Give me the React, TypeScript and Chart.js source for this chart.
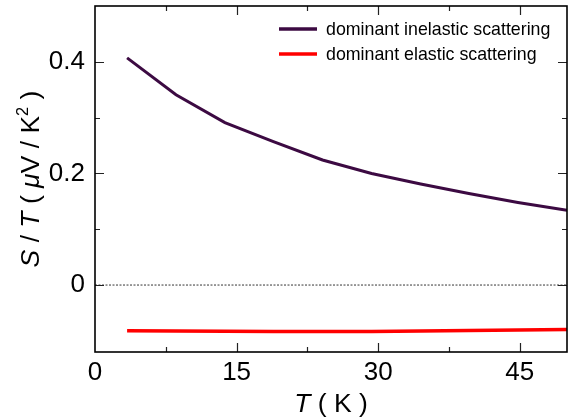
import React, { useEffect, useRef } from "react";
import { Chart, registerables } from "chart.js";

Chart.register(...registerables);

const temperatures = [3.4, 8.58, 13.76, 18.9, 24.1, 29.3, 34.5, 39.6, 44.8, 50];
const inelastic = [0.407, 0.341, 0.291, 0.257, 0.224, 0.2, 0.181, 0.164, 0.148, 0.134];
const elastic = [-0.082, -0.0825, -0.083, -0.0833, -0.0833, -0.0832, -0.0825, -0.0815, -0.0805, -0.0797];
const seriesLabels = ["dominant inelastic scattering", "dominant elastic scattering"];
const seriesColors = ["#3c0a42", "#ff0000"];
const xMajorLabels = [0, 15, 30, 45];
const yMajorLabels = [0, 0.2, 0.4];

const FONT = "'Liberation Sans', Arial, sans-serif";

type Seg = { t: string; italic?: boolean; sup?: boolean };
const xTitle: Seg[] = [{ t: "T", italic: true }, { t: " ( K )" }];
const yTitle: Seg[] = [
  { t: "S", italic: true },
  { t: " / " },
  { t: "T", italic: true },
  { t: " ( " },
  { t: "\u03bc", italic: true },
  { t: "V / K" },
  { t: "2", sup: true },
  { t: " )" },
];

function segFont(s: Seg, size: number) {
  const sz = s.sup ? size * 0.62 : size;
  return `${s.italic ? "italic " : ""}${sz}px ${FONT}`;
}

function drawSegs(ctx: CanvasRenderingContext2D, segs: Seg[], cx: number, baseY: number, size: number) {
  let total = 0;
  for (const s of segs) {
    ctx.font = segFont(s, size);
    total += ctx.measureText(s.t).width;
  }
  let x = cx - total / 2;
  ctx.textAlign = "left";
  ctx.textBaseline = "alphabetic";
  for (const s of segs) {
    ctx.font = segFont(s, size);
    ctx.fillText(s.t, x, s.sup ? baseY - size * 0.42 : baseY);
    x += ctx.measureText(s.t).width;
  }
}

const isMult = (v: number, step: number) => Math.abs(v / step - Math.round(v / step)) < 1e-6;

const framePlugin = {
  id: "frameTicks",
  beforeDatasetsDraw(chart: any) {
    const { ctx, chartArea: ca, scales } = chart;
    const y0 = scales.y.getPixelForValue(0);
    ctx.save();
    ctx.strokeStyle = "#000";
    ctx.lineWidth = 0.8;
    ctx.setLineDash([2, 1.5]);
    ctx.beginPath();
    ctx.moveTo(ca.left, y0);
    ctx.lineTo(ca.right, y0);
    ctx.stroke();
    ctx.restore();
  },
  afterDatasetsDraw(chart: any) {
    const { ctx, chartArea: ca, scales } = chart;
    ctx.save();
    // ticks
    ctx.strokeStyle = "#222";
    ctx.lineWidth = 1.2;
    ctx.beginPath();
    for (const t of scales.x.ticks) {
      const v = t.value;
      if (!isMult(v, 7.5) || v <= 0 || v >= 50) continue;
      const len = isMult(v, 15) ? 9 : 5;
      const px = Math.round(scales.x.getPixelForValue(v)) + 0.5;
      ctx.moveTo(px, ca.bottom);
      ctx.lineTo(px, ca.bottom - len);
      ctx.moveTo(px, ca.top);
      ctx.lineTo(px, ca.top + len);
    }
    for (const t of scales.y.ticks) {
      const v = t.value;
      if (!isMult(v, 0.1) || v <= -0.12 || v >= 0.5) continue;
      const len = isMult(v, 0.2) ? 9 : 5;
      const py = Math.round(scales.y.getPixelForValue(v)) + 0.5;
      ctx.moveTo(ca.left, py);
      ctx.lineTo(ca.left + len, py);
      ctx.moveTo(ca.right, py);
      ctx.lineTo(ca.right - len, py);
    }
    ctx.stroke();
    // frame
    ctx.strokeStyle = "#000";
    ctx.lineWidth = 1.6;
    ctx.strokeRect(ca.left, ca.top, ca.right - ca.left, ca.bottom - ca.top);

    // legend
    const lx = ca.left + 184;
    chart.data.datasets.forEach((ds: any, i: number) => {
      const ly = ca.top + 23 + i * 25;
      ctx.strokeStyle = ds.borderColor;
      ctx.lineWidth = 3.5;
      ctx.beginPath();
      ctx.moveTo(lx, ly);
      ctx.lineTo(lx + 38, ly);
      ctx.stroke();
      ctx.fillStyle = "#000";
      ctx.font = `17.8px ${FONT}`;
      ctx.textAlign = "left";
      ctx.textBaseline = "middle";
      ctx.fillText(ds.label, lx + 47, ly + 1);
    });

    // axis titles
    ctx.fillStyle = "#000";
    drawSegs(ctx, xTitle, (ca.left + ca.right) / 2, 412, 26.5);
    ctx.save();
    ctx.translate(39, (ca.top + ca.bottom) / 2);
    ctx.rotate(-Math.PI / 2);
    drawSegs(ctx, yTitle, 0, 0, 26.5);
    ctx.restore();
    ctx.restore();
  },
};

export default function App() {
  const ref = useRef<HTMLCanvasElement>(null);
  useEffect(() => {
    document.body.style.margin = "0";
    const canvas = ref.current!;
    const chart = new Chart(canvas, {
      type: "line",
      data: {
        datasets: [
          {
            label: seriesLabels[0],
            data: temperatures.map((t, i) => ({ x: t, y: inelastic[i] })),
            borderColor: seriesColors[0],
            borderWidth: 3,
            pointRadius: 0,
            fill: false,
            tension: 0,
          },
          {
            label: seriesLabels[1],
            data: temperatures.map((t, i) => ({ x: t, y: elastic[i] })),
            borderColor: seriesColors[1],
            borderWidth: 3.5,
            pointRadius: 0,
            fill: false,
            tension: 0,
          },
        ],
      },
      plugins: [framePlugin],
      options: {
        responsive: false,
        animation: false,
        layout: { padding: { top: 6, right: 2, left: 0, bottom: 0 } },
        plugins: { legend: { display: false }, tooltip: { enabled: false } },
        scales: {
          x: {
            type: "linear",
            min: 0,
            max: 50,
            grid: { display: false, drawTicks: false },
            border: { display: false },
            afterFit: (s: any) => {
              s.height = 66;
              s.paddingLeft = 0;
              s.paddingRight = 0;
            },
            ticks: {
              stepSize: 7.5,
              autoSkip: false,
              maxRotation: 0,
              padding: 5,
              color: "#000",
              font: { size: 26, family: FONT },
              callback: (v: any) => (xMajorLabels.some((m) => Math.abs(m - v) < 1e-6) ? String(v) : ""),
            },
          },
          y: {
            type: "linear",
            min: -0.12,
            max: 0.5,
            grid: { display: false, drawTicks: false },
            border: { display: false },
            afterFit: (s: any) => {
              s.width = 95;
              s.paddingTop = 0;
              s.paddingBottom = 0;
            },
            ticks: {
              stepSize: 0.1,
              autoSkip: false,
              padding: 10,
              color: "#000",
              font: { size: 26, family: FONT },
              callback: (v: any) => {
                const m = yMajorLabels.find((q) => Math.abs(q - v) < 1e-6);
                return m === undefined ? "" : m === 0 ? "0" : m.toFixed(1);
              },
            },
          },
        },
      },
    } as any);
    return () => chart.destroy();
  }, []);
  return (
    <div style={{ width: 569, height: 418 }}>
      <canvas ref={ref} width={569} height={418} />
    </div>
  );
}
